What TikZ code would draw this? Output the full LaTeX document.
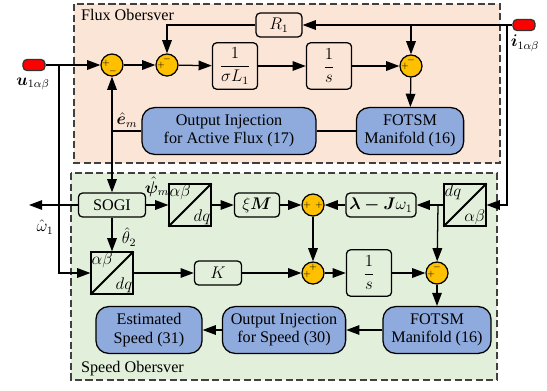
\documentclass[tikz,border=0pt]{standalone}
\usepackage{amsmath}
\usepackage{fontspec}
\setmainfont{Liberation Serif}
\newfontfamily\blockfont{Liberation Serif}
\usepackage{bm}
\usetikzlibrary{arrows.meta}
\definecolor{fluxbg}{HTML}{FBE5D6}
\definecolor{speedbg}{HTML}{E2EFDA}
\definecolor{blockblue}{HTML}{8FAADC}
\definecolor{sumgold}{HTML}{FFC000}

\begin{document}
\begin{tikzpicture}[x=0.025cm,y=-0.025cm,font=\blockfont\fontsize{11.5}{13}\selectfont,line width=0.9pt,>={Triangle[length=3.3mm,width=2.4mm]}]
	\tikzstyle{every node}=[inner sep=1pt]
	\tikzstyle{region}=[draw=black!75,dash pattern=on 5pt off 2.5pt,line width=0.9pt]
	\tikzstyle{sumnode}=[circle,draw,fill=sumgold,minimum size=0.55cm,inner sep=0pt]
	\tikzstyle{sgn}=[font=\fontsize{6}{6}\selectfont,inner sep=0pt]
	\tikzstyle{block}=[draw,rounded corners=3pt,minimum height=0.6cm,align=center]
	\tikzstyle{fracblock}=[block,minimum width=1.13cm,minimum height=1.16cm]
	\tikzstyle{bigblock}=[draw,fill=blockblue,rounded corners=9pt,minimum height=1.17cm,align=center]
	\tikzstyle{convblock}=[draw,line width=1.4pt,minimum size=1.03cm,inner sep=0pt]
	\tikzstyle{convtext}=[inner sep=0.5pt]
	\tikzstyle{siglabel}=[inner sep=0pt]
	\tikzstyle{terminal}=[draw=black!80,fill=red,rounded corners=3pt,minimum width=0.55cm,minimum height=0.28cm,inner sep=0pt]
	\useasboundingbox (0,0) rectangle (547,390);
	% observer regions
	\draw[region,fill=fluxbg] (74,4) rectangle (500,163);
	\draw[region,fill=speedbg] (71,173) rectangle (497,380);
	\node[anchor=west] (fluxtitle) at (79,15) {Flux Obersver};
	\node[anchor=west] (speedtitle) at (79,369) {Speed Obersver};
	% inputs
	\node[terminal] (u) at (34,65) {};
	\node (ulab) at (33,84) {$\bm{u}_{1\alpha\beta}$};
	\node[terminal] (i) at (524,25) {};
	\node (ilab) at (525,43) {$\bm{i}_{1\alpha\beta}$};
	% flux observer
	\node[sumnode] (s1) at (112,65) {};
	\node[sumnode] (s2) at (167,65) {};
	\node[sumnode] (s3) at (411,66) {};
	\node[fracblock] (f1) at (235,66) {$\dfrac{1}{\sigma L_1}$};
	\node[fracblock] (f2) at (329,66) {$\dfrac{1}{s}$};
	\node[block,minimum width=1.15cm] (r1) at (279,25) {$R_1$};
	\node[bigblock,minimum width=4.35cm] (oi1) at (229,131) {Output Injection\\for Active Flux (17)};
	\node[bigblock,minimum width=2.68cm] (fm1) at (410,131) {FOTSM\\Manifold (16)};
	\path (s1) ++(-6,-2) node[sgn] {$+$} (s1) ++(1,6) node[sgn] {$-$};
	\path (s2) ++(-6,0) node[sgn] {$+$} (s2) ++(0,-6) node[sgn] {$-$};
	\path (s3) ++(-6,0) node[sgn] {$+$} (s3) ++(0,-6) node[sgn] {$-$};
	% speed observer
	\node[block,minimum width=1.68cm] (sogi) at (112,205) {SOGI};
	\node[convblock] (c1) at (190,205) {};
	\node[convblock] (c2) at (112,273) {};
	\node[convblock] (c3) at (465,205) {};
	\draw[line width=1.4pt] (c1.south west) -- (c1.north east);
	\draw[line width=1.4pt] (c2.south west) -- (c2.north east);
	\draw[line width=1.4pt] (c3.south west) -- (c3.north east);
	\node[convtext,anchor=north west] (c1a) at (c1.north west) {$\alpha\beta$};
	\node[convtext,anchor=south east] (c1b) at (c1.south east) {$dq$};
	\node[convtext,anchor=north west] (c2a) at (c2.north west) {$\alpha\beta$};
	\node[convtext,anchor=south east] (c2b) at (c2.south east) {$dq$};
	\node[convtext,anchor=north west] (c3a) at (c3.north west) {$dq$};
	\node[convtext,anchor=south east] (c3b) at (c3.south east) {$\alpha\beta$};
	\node[block,minimum width=1.13cm] (xm) at (257,205) {$\xi\bm{M}$};
	\node[block,minimum width=1.75cm] (lj) at (381,205) {$\bm{\lambda-J}\omega_1$};
	\node[block,minimum width=1.18cm] (k) at (218,273) {$K$};
	\node[sumnode] (s4) at (313,205) {};
	\node[sumnode] (s5) at (313,273) {};
	\node[sumnode] (s6) at (437,273) {};
	\node[fracblock] (f3) at (369,273) {$\dfrac{1}{s}$};
	\path (s4) ++(-6,0) node[sgn] {$+$} (s4) ++(6,0) node[sgn] {$+$};
	\path (s5) ++(-6,1) node[sgn] {$+$} (s5) ++(0,-6) node[sgn] {$+$};
	\path (s6) ++(-6,1) node[sgn] {$+$} (s6) ++(0,-6) node[sgn] {$-$};
	\node[bigblock,minimum width=2.65cm] (es) at (149,330) {Estimated\\Speed (31)};
	\node[bigblock,minimum width=3.08cm] (oi2) at (284,330) {Output Injection\\for Speed (30)};
	\node[bigblock,minimum width=2.7cm] (fm2) at (437,330) {FOTSM\\Manifold (16)};
	% connectors
	\coordinate (ju) at (59,65);
	\coordinate (je) at (112,131);
	\coordinate (ji) at (411,25);
	\coordinate (ji2) at (507,25);
	\coordinate (wout) at (29,205);
	\coordinate (jd) at (438,205);
	\draw[->] (u) -- (s1);
	\draw[->] (ju) |- (c2);
	\draw[->] (s1) -- (s2);
	\draw[->] (s2) -- (f1);
	\draw[->] (f1) -- (f2);
	\draw[->] (f2) -- (s3);
	\draw[->] (s3) -- (fm1);
	\draw (fm1) -- (oi1);
	\draw (oi1) -- (je);
	\draw[->] (je) -- (s1);
	\draw[->] (je) -- (sogi);
	\draw[->] (i) -- (r1);
	\draw[->] (ji) -- (s3);
	\draw[->] (ji2) |- (c3);
	\draw[->] (r1) -| (s2);
	\draw[->] (sogi) -- (wout);
	\draw[->] (sogi) -- (c1);
	\draw[->] (sogi) -- (c2);
	\draw[->] (c1) -- (xm);
	\draw[->] (xm) -- (s4);
	\draw[->] (lj) -- (s4);
	\draw[->] (c3) -- (lj);
	\draw[->] (jd) -- (s6);
	\draw[->] (s4) -- (s5);
	\draw[->] (c2) -- (k);
	\draw[->] (k) -- (s5);
	\draw[->] (s5) -- (f3);
	\draw[->] (f3) -- (s6);
	\draw[->] (s6) -- (fm2);
	\draw[->] (fm2) -- (oi2);
	\draw[->] (oi2) -- (es);
	% signal labels
	\node[siglabel] (elab) at (127,120) {$\hat{\bm{e}}_m$};
	\node[siglabel] (psilab) at (157,187) {$\hat{\bm{\psi}}_m$};
	\node[siglabel] (thlab) at (129,237) {$\hat{\theta}_2$};
	\node[siglabel] (wlab) at (45,227) {$\hat{\omega}_1$};
\end{tikzpicture}
\end{document}
